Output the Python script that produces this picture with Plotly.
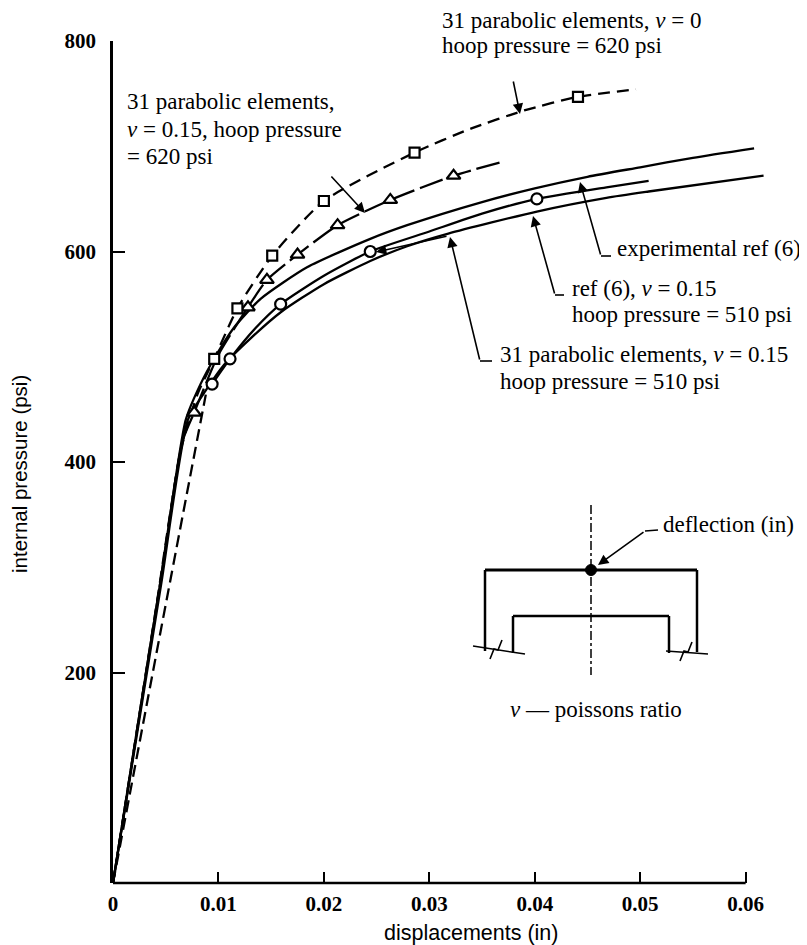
import plotly.graph_objects as go

# ---------------- data (displacement in inches, internal pressure in psi) ----------------
# experimental ref (6)
exp_x = [0, 0.0023, 0.0046, 0.0069, 0.0083, 0.0097, 0.0115, 0.0140, 0.0184, 0.0244, 0.0279, 0.0350, 0.0400, 0.0450, 0.0500, 0.0550, 0.0608]
exp_y = [0, 147, 293, 440, 474, 500, 528, 555, 585, 612, 625, 647, 660, 671, 680, 689, 698]

# ref (6), nu = 0.15, hoop pressure = 510 psi
ref_x = [0, 0.0023, 0.0046, 0.0071, 0.0088, 0.0105, 0.0130, 0.0160, 0.0200, 0.0244, 0.0279, 0.0318, 0.0402, 0.0468, 0.0508, 0.0617]
ref_y = [0, 143, 286, 440, 468, 492, 517, 543, 569, 591, 605, 617, 638, 651, 657, 672]

# 31 parabolic elements, nu = 0.15, hoop pressure = 510 psi (circles)
c15_low_x = [0, 0.0044, 0.0088]
c15_low_y = [0, 233, 464]
c15_x = [0.0094, 0.0111, 0.0135, 0.0159, 0.0200, 0.0244, 0.0300, 0.0350, 0.0402, 0.0468, 0.0508]
c15_y = [474, 498, 527, 550, 577, 600, 619, 636, 650, 661, 667]
c15_mx = [0.0094, 0.0111, 0.0159, 0.0244, 0.0402]
c15_my = [474, 498, 550, 600, 650]

# 31 parabolic elements, nu = 0.15, hoop pressure = 620 psi (triangles)
t15_x = [0, 0.0022, 0.0044, 0.0066, 0.0077, 0.0100, 0.0128, 0.0146, 0.0175, 0.0213, 0.0263, 0.0323, 0.0372]
t15_y = [0, 140, 280, 420, 447, 502, 547, 573, 597, 625, 649, 672, 686]
t15_mx = [0.0077, 0.0128, 0.0146, 0.0175, 0.0213, 0.0263, 0.0323]
t15_my = [447, 547, 573, 597, 625, 649, 672]

# 31 parabolic elements, nu = 0, hoop pressure = 620 psi (squares)
s0_x = [0, 0.0021, 0.0042, 0.0064, 0.0080, 0.0096, 0.0118, 0.0151, 0.0200, 0.0286, 0.0340, 0.0390, 0.0441, 0.0496]
s0_y = [0, 134, 269, 410, 464, 498, 546, 596, 648, 694, 717, 734, 747, 754]
s0_mx = [0.0096, 0.0118, 0.0151, 0.0200, 0.0286, 0.0441]
s0_my = [498, 546, 596, 648, 694, 747]

x_ticks = [0, 0.01, 0.02, 0.03, 0.04, 0.05, 0.06]
x_ticktext = ["0", "0.01", "0.02", "0.03", "0.04", "0.05", "0.06"]
y_ticks = [200, 400, 600, 800]
y_ticktext = ["200", "400", "600", "800"]

# ---------------- layout geometry ----------------
W, H = 807, 945
ML, MR, MT, MB = 105, 43, 33, 70
XR = [0, 0.0625]
YR = [0, 800]
PW = W - ML - MR
PH = H - MT - MB
TEXT_DY = -7   # vertical correction for annotation text placement


def X(px):
    return XR[0] + (px - ML) / PW * (XR[1] - XR[0])


def Y(py):
    return YR[0] + (H - MB - py) / PH * (YR[1] - YR[0])


def PX(px):
    return (px - ML) / PW


def PY(py):
    return (H - MB - py) / PH


SERIF = "Liberation Serif"
SANS = "Liberation Sans"
BLK = "black"

fig = go.Figure()


def curve(xs, ys, dash="solid", width=2.3):
    fig.add_trace(go.Scatter(
        x=xs, y=ys, mode="lines",
        line=dict(color=BLK, width=width, dash=dash, shape="spline", smoothing=0.6),
        hoverinfo="skip", showlegend=False))


def markers(xs, ys, symbol, size):
    fig.add_trace(go.Scatter(
        x=xs, y=ys, mode="markers",
        marker=dict(symbol=symbol, size=size, color="white", line=dict(color=BLK, width=2.2)),
        cliponaxis=False, hoverinfo="skip", showlegend=False))


curve(exp_x, exp_y)
curve(ref_x, ref_y)
curve(c15_low_x, c15_low_y, dash="12px,6px")
curve(c15_x, c15_y)
curve(t15_x, t15_y, dash="24px,6px")
curve(s0_x, s0_y, dash="12px,7px")
markers(c15_mx, c15_my, "circle", 11)
markers(t15_mx, t15_my, "triangle-up", 12)
markers(s0_mx, s0_my, "square", 10)

annotations = []


def label(text, px, py, size=23, family=SERIF, xanchor="left", angle=0, dx=0, dy=TEXT_DY):
    annotations.append(dict(
        text=text, x=PX(px + dx), y=PY(py + dy), xref="paper", yref="paper", showarrow=False,
        xanchor=xanchor, yanchor="middle", textangle=angle,
        font=dict(family=family, size=size, color=BLK)))


def arrow(tip_px, tip_py, tail_px, tail_py, head=2, size=1.3, width=1.6):
    annotations.append(dict(
        text="", x=X(tip_px), y=Y(tip_py), ax=X(tail_px), ay=Y(tail_py),
        xref="x", yref="y", axref="x", ayref="y", showarrow=True,
        arrowhead=head, arrowsize=size, arrowwidth=width, arrowcolor=BLK, standoff=0))


NU = "<i>ν</i>"
label("31 parabolic elements, " + NU + " = 0", 432, 20)
label("hoop pressure = 620 psi", 432, 44)
label("31 parabolic elements,", 117, 100)
label(NU + " = 0.15, hoop pressure", 117, 128)
label("= 620 psi", 117, 155)
label("experimental ref (6)", 607, 247)
label("ref (6), " + NU + " = 0.15", 562, 287)
label("hoop pressure = 510 psi", 562, 313)
label("31 parabolic elements, " + NU + " = 0.15", 490, 353)
label("hoop pressure = 510 psi", 490, 380)
label("deflection (in)", 653, 523)
label(NU + " — poissons ratio", 500, 708)
label("displacements (in)", 463, 932, size=21.5, family=SANS, xanchor="center")
label("internal pressure (psi)", 14, 466, size=20.5, family=SANS, xanchor="center",
      angle=-90, dx=-3, dy=0)

# leader arrows
arrow(512, 106, 505, 72)
arrow(357, 205, 322, 167)
arrow(572, 174, 593, 248)
arrow(525, 208, 547, 287)
arrow(442, 229, 472, 353)
arrow(368, 244, 440, 228)
arrow(590, 557, 637, 523)

shapes = []


def seg(p0, p1, width=2.2, dash="solid"):
    shapes.append(dict(type="line", xref="x", yref="y",
                       x0=X(p0[0]), y0=Y(p0[1]), x1=X(p1[0]), y1=Y(p1[1]),
                       line=dict(color=BLK, width=width, dash=dash)))


def path(points, width=2.0):
    d = "M " + " L ".join(f"{X(px)},{Y(py)}" for px, py in points)
    shapes.append(dict(type="path", xref="x", yref="y", path=d,
                       line=dict(color=BLK, width=width)))


# leader ticks
seg((593, 248), (603, 248), 1.6)
seg((547, 287), (556, 287), 1.6)
seg((472, 353), (484, 353), 1.6)
seg((637, 523), (650, 522), 1.6)

# x axis line (ends at 0.06)
shapes.append(dict(type="line", xref="x", yref="paper", x0=0, x1=0.06, y0=0, y1=0,
                   line=dict(color=BLK, width=2.5)))

# inset schematic
seg((477, 562), (689, 562), 2.8)
seg((477, 562), (477, 643), 2.5)
seg((689, 562), (689, 644), 2.5)
seg((505, 608), (661, 608), 2.5)
seg((505, 608), (505, 645), 2.5)
seg((661, 608), (661, 645), 2.5)
seg((465, 638), (517, 646), 1.5)
seg((658, 643), (700, 646), 1.5)
path([(482, 651), (486, 641), (490, 642), (494, 632)], 1.6)
path([(672, 653), (676, 643), (680, 644), (684, 634)], 1.6)
seg((583, 497), (583, 667), 1.5, "dashdot")
shapes.append(dict(type="circle", xref="x", yref="y",
                   x0=X(577.5), y0=Y(567.5), x1=X(588.5), y1=Y(556.5),
                   fillcolor=BLK, line=dict(color=BLK, width=1)))

fig.update_layout(
    width=W, height=H,
    margin=dict(l=ML, r=MR, t=MT, b=MB, autoexpand=False),
    paper_bgcolor="white", plot_bgcolor="white",
    showlegend=False,
    annotations=annotations, shapes=shapes,
    font=dict(family=SERIF, color=BLK),
    xaxis=dict(range=XR, showgrid=False, zeroline=False, showline=False,
               tickvals=x_ticks, ticktext=x_ticktext, ticks="inside",
               ticklen=11, tickwidth=2, tickcolor=BLK, automargin=False,
               ticklabelstandoff=6,
               tickfont=dict(family=SERIF, size=21, color=BLK, weight="bold")),
    yaxis=dict(range=YR, showgrid=False, zeroline=False, showline=True,
               linecolor=BLK, linewidth=2.5,
               tickvals=y_ticks, ticktext=y_ticktext, ticks="inside",
               ticklen=12, tickwidth=2, tickcolor=BLK, automargin=False,
               ticklabelstandoff=10,
               tickfont=dict(family=SERIF, size=21, color=BLK, weight="bold")),
)

fig.write_html("out.html")
